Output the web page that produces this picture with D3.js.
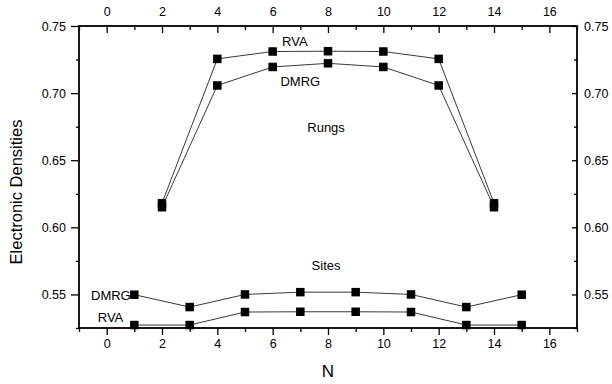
<!DOCTYPE html>
<html>
<head>
<meta charset="utf-8">
<script src="https://cdn.jsdelivr.net/npm/d3@7"></script>
<style>
  body { margin: 0; background: #fff; }
  svg { display: block; font-family: "Liberation Sans", Arial, Helvetica, sans-serif; }
</style>
</head>
<body>
<svg id="chart"></svg>
<script>
// rungs are at even N, sites at odd N
let rungN = [2, 4, 6, 8, 10, 12, 14];
let rungRVA = [0.618, 0.7255, 0.731, 0.7312, 0.731, 0.7255, 0.618];
let rungDMRG = [0.615, 0.7057, 0.7195, 0.7222, 0.7195, 0.7057, 0.615];

let siteN = [1, 3, 5, 7, 9, 11, 13, 15];
let siteDMRG = [0.5498, 0.5406, 0.5500, 0.5517, 0.5517, 0.5500, 0.5406, 0.5498];
let siteRVA = [0.5272, 0.5272, 0.5369, 0.5371, 0.5371, 0.5369, 0.5272, 0.5272];

let xTicks = [0, 2, 4, 6, 8, 10, 12, 14, 16];
let xMinorTicks = [-1, 1, 3, 5, 7, 9, 11, 13, 15, 17];
let yTicks = [0.55, 0.60, 0.65, 0.70, 0.75];
let yMinorTicks = [0.525, 0.575, 0.625, 0.675, 0.725];

// text notes: [text, N, density(baseline), anchor]
let notes = [
    ['RVA', 6.8, 0.7351, 'middle'],
    ['DMRG', 7.0, 0.7054, 'middle'],
    ['Rungs', 7.93, 0.6711, 'middle'],
    ['Sites', 7.93, 0.5682, 'middle'],
    ['DMRG', 0.87, 0.5462, 'end'],
    ['RVA', 0.6, 0.5291, 'end']
];

function getConfig() {
    let width = 612;
    let height = 384;
    let margin = { top: 26, bottom: 56, left: 79, right: 35 };
    let container = d3.select('#chart')
        .attr('width', width)
        .attr('height', height);
    return { width, height, margin, container };
}

function getScales(config) {
    let { width, height, margin } = config;
    let xScale = d3.scaleLinear()
        .domain([-1, 17])
        .range([margin.left, width - margin.right]);
    let yScale = d3.scaleLinear()
        .domain([0.525, 0.75])
        .range([height - margin.bottom, margin.top]);
    return { xScale, yScale };
}

function styleAxis(g, size) {
    g.select('.domain').remove();
    g.selectAll('.tick line').attr('stroke', '#000').attr('stroke-width', 1.3);
    g.selectAll('text').attr('font-size', size).attr('fill', '#000');
}

function drawAxes(scales, config) {
    let { xScale, yScale } = scales;
    let { container, margin, width, height } = config;
    let bottom = height - margin.bottom;
    let right = width - margin.right;
    let fmt = d3.format('.2f');

    // bottom: ticks outward
    container.append('g')
        .attr('transform', `translate(0,${bottom})`)
        .call(d3.axisBottom(xScale).tickValues(xMinorTicks).tickSize(4).tickFormat(''))
        .call(g => styleAxis(g, 12.5));
    container.append('g')
        .attr('transform', `translate(0,${bottom})`)
        .call(d3.axisBottom(xScale).tickValues(xTicks).tickSize(7).tickPadding(4).tickFormat(d3.format('d')))
        .call(g => styleAxis(g, 12.5));

    // top: ticks inward
    container.append('g')
        .attr('transform', `translate(0,${margin.top})`)
        .call(d3.axisTop(xScale).tickValues(xMinorTicks).tickSize(-4).tickFormat(''))
        .call(g => styleAxis(g, 12.5));
    container.append('g')
        .attr('transform', `translate(0,${margin.top})`)
        .call(d3.axisTop(xScale).tickValues(xTicks).tickSize(-7).tickPadding(10).tickFormat(d3.format('d')))
        .call(g => styleAxis(g, 12.5));

    // left: ticks outward
    container.append('g')
        .attr('transform', `translate(${margin.left},0)`)
        .call(d3.axisLeft(yScale).tickValues(yMinorTicks).tickSize(3).tickFormat(''))
        .call(g => styleAxis(g, 12.5));
    container.append('g')
        .attr('transform', `translate(${margin.left},0)`)
        .call(d3.axisLeft(yScale).tickValues(yTicks).tickSize(8).tickPadding(5).tickFormat(fmt))
        .call(g => styleAxis(g, 12.5));

    // right: ticks inward
    container.append('g')
        .attr('transform', `translate(${right},0)`)
        .call(d3.axisRight(yScale).tickValues(yMinorTicks).tickSize(-3).tickFormat(''))
        .call(g => styleAxis(g, 12.5));
    container.append('g')
        .attr('transform', `translate(${right},0)`)
        .call(d3.axisRight(yScale).tickValues(yTicks).tickSize(-5).tickPadding(7).tickFormat(fmt))
        .call(g => styleAxis(g, 12.5));

    // frame
    container.append('rect')
        .attr('x', margin.left)
        .attr('y', margin.top)
        .attr('width', right - margin.left)
        .attr('height', bottom - margin.top)
        .attr('fill', 'none')
        .attr('stroke', '#000')
        .attr('stroke-width', 1.8);

    container.append('text')
        .attr('x', xScale(8))
        .attr('y', 377)
        .attr('text-anchor', 'middle')
        .attr('font-size', 17)
        .text('N');

    container.append('text')
        .attr('transform', `translate(22,${(margin.top + bottom) / 2 + 15}) rotate(-90)`)
        .attr('text-anchor', 'middle')
        .attr('font-size', 16.5)
        .text('Electronic Densities');
}

function drawSeries(xs, ys, scales, config) {
    let { xScale, yScale } = scales;
    let { container } = config;
    let pts = xs.map((n, i) => [n, ys[i]]);
    let line = d3.line()
        .x(d => xScale(d[0]))
        .y(d => yScale(d[1]));

    container.append('path')
        .datum(pts)
        .attr('d', line)
        .attr('fill', 'none')
        .attr('stroke', '#222')
        .attr('stroke-width', 0.9);

    let s = 8.5;
    container.append('g').selectAll('rect').data(pts)
        .enter().append('rect')
        .attr('x', d => xScale(d[0]) - s / 2)
        .attr('y', d => yScale(d[1]) - s / 2)
        .attr('width', s)
        .attr('height', s)
        .attr('fill', '#000');
}

function drawNotes(scales, config) {
    let { xScale, yScale } = scales;
    config.container.append('g').selectAll('text').data(notes)
        .enter().append('text')
        .attr('x', d => xScale(d[1]))
        .attr('y', d => yScale(d[2]))
        .attr('text-anchor', d => d[3])
        .attr('font-size', 13)
        .text(d => d[0]);
}

function drawChart() {
    let config = getConfig();
    let scales = getScales(config);
    config.container.append('rect')
        .attr('width', config.width).attr('height', config.height).attr('fill', '#fff');
    drawAxes(scales, config);
    drawSeries(rungN, rungRVA, scales, config);
    drawSeries(rungN, rungDMRG, scales, config);
    drawSeries(siteN, siteDMRG, scales, config);
    drawSeries(siteN, siteRVA, scales, config);
    drawNotes(scales, config);
}

drawChart();
</script>
</body>
</html>
